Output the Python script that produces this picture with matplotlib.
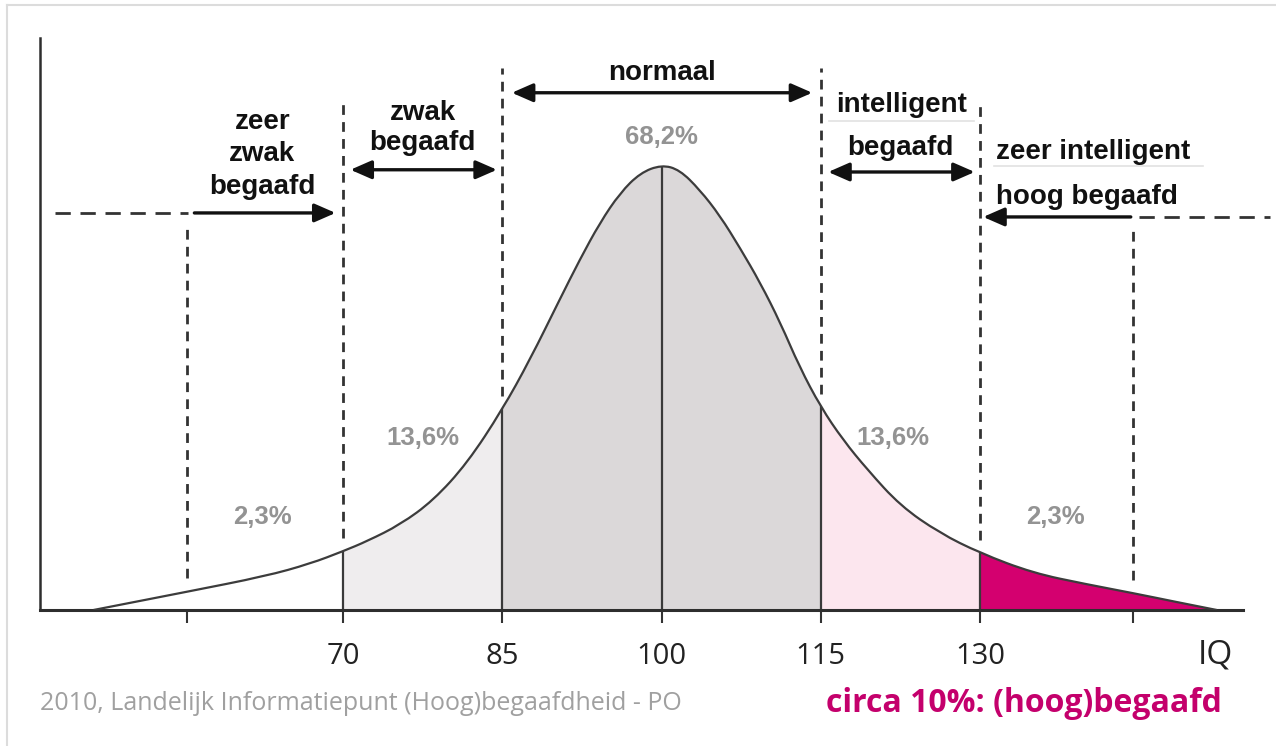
import matplotlib
matplotlib.use('Agg')
from matplotlib import pyplot as plt
from matplotlib.path import Path
from matplotlib.patches import PathPatch
import numpy as np

# curve: IQ against relative height (peak = 100)
iq = np.array([46.5, 48.0, 55.3, 62.7, 66.9, 70, 72.3, 75.4, 78.5, 81.7, 85, 87.6, 90.4, 92.3,
               94.2, 96.1, 98.0, 100, 101.7, 103.6, 105.5, 107.4, 109.3, 111.2, 113.0, 115,
               117.1, 119.4, 122.5, 126.2, 130, 135, 140, 144.4, 148.5, 152.3])
height = np.array([0, 0.7, 4.1, 7.6, 10.4, 13.2, 15.5, 19.2, 24.6, 33.0, 45.0, 56.2, 69.7, 78.7,
                   87.0, 93.7, 98.2, 100, 98.9, 94.4, 88.6, 81.3, 73.5, 64.5, 54.6, 45.6,
                   38.2, 31.5, 23.4, 17.3, 12.8, 8.3, 5.8, 3.8, 1.8, 0])

boundaries = [70, 85, 100, 115, 130]
bands = [(70, 85), (85, 115), (115, 130), (130, 152.3)]
band_colors = ['#efedee', '#dbd8d9', '#fce6ee', '#d4006f']
percent_labels = ['2,3%', '13,6%', '68,2%', '13,6%', '2,3%']
tick_values = [55.3, 70, 85, 100, 115, 130, 144.4]
tick_labels = ['', '70', '85', '100', '115', '130', '']

BOLD = ['Liberation Sans', 'DejaVu Sans']
SOFT = ['Open Sans', 'DejaVu Sans']
INK = '#111111'
LINE = '#3a3a3a'

fig = plt.figure(figsize=(12.76, 7.46), dpi=100)
ax = fig.add_axes([40 / 1276, 136 / 746, 1203 / 1276, 572 / 746])
ax.set_xlim(41.46, 154.77)
ax.set_ylim(0, 128.5)
for s in ['top', 'right']:
    ax.spines[s].set_visible(False)
ax.spines['bottom'].set_linewidth(2.2)
ax.spines['bottom'].set_color('#2e2e2e')
ax.spines['left'].set_linewidth(1.8)
ax.spines['left'].set_color('#2e2e2e')
ax.set_yticks([])
ax.set_xticks(tick_values)
ax.set_xticklabels(tick_labels, family=SOFT)
ax.tick_params(axis='x', direction='out', length=9, width=1.5, color='#333333',
               pad=14, labelsize=21, labelcolor='#222222')

# smooth path through the read points (quadratic bezier via midpoints)
pts = np.column_stack([iq, height])
verts = [pts[0], (pts[0] + pts[1]) / 2]
codes = [Path.MOVETO, Path.LINETO]
for i in range(1, len(pts) - 1):
    verts += [pts[i], (pts[i] + pts[i + 1]) / 2]
    codes += [Path.CURVE3, Path.CURVE3]
verts.append(pts[-1])
codes.append(Path.LINETO)
curve = Path(verts, codes)
area = Path(verts + [(iq[-1], 0), (iq[0], 0), (iq[0], 0)],
            codes + [Path.LINETO, Path.LINETO, Path.CLOSEPOLY])

area_patch = PathPatch(area, facecolor='none', edgecolor='none')
ax.add_patch(area_patch)

# shaded bands under the curve
for (a, b), c in zip(bands, band_colors):
    sp = ax.axvspan(a, b, color=c, lw=0, zorder=1)
    sp.set_clip_path(area_patch)

# solid dividers under the curve
for b in boundaries:
    ln = ax.axvline(b, color=LINE, lw=1.6, zorder=2)
    ln.set_clip_path(area_patch)

ax.add_patch(PathPatch(curve, facecolor='none', edgecolor='#3c3c3c', lw=1.6, zorder=3))

# dashed guides above the curve
dash_tops = {55.3: 85.8, 70: 114.6, 85: 121.8, 115: 121.8, 130: 114.6, 144.4: 85.8}
for x, top in dash_tops.items():
    hb = height[iq == x][0]
    ax.plot([x, x], [hb + 3, top], color='#333333', lw=2, dashes=(3.5, 2.6), zorder=2)

# arrows
arrow = '<|-|>,head_length=0.8,head_width=0.35'
single = '-|>,head_length=0.8,head_width=0.35'
def arr(x0, x1, y, style):
    ax.annotate('', xy=(x1, y), xytext=(x0, y),
                arrowprops=dict(arrowstyle=style, color=INK, lw=2.4,
                                mutation_scale=16, shrinkA=0, shrinkB=0),
                annotation_clip=False)

arr(85.9, 114.2, 116.2, arrow)
arr(70.7, 84.5, 98.9, arrow)
arr(115.7, 129.5, 98.4, arrow)
arr(56.0, 69.3, 89.2, single)
arr(144.2, 130.3, 88.3, single)
ax.plot([42.9, 55.4], [89.2, 89.2], color='#333333', lw=2, dashes=(5.5, 3.5), clip_on=False)
ax.plot([145.0, 157.3], [88.3, 88.3], color='#333333', lw=2, dashes=(5.5, 3.5), clip_on=False)

# faint rules under the right-hand labels
ax.plot([115.8, 129.4], [109.8, 109.8], color='#e2e2e2', lw=1.2)
ax.plot([131.3, 151.0], [99.8, 99.8], color='#e2e2e2', lw=1.2)

# bold category labels
lab = dict(family=BOLD, fontweight='bold', fontsize=20, color=INK, ha='center', va='center')
ax.text(62.4, 109.7, 'zeer', **lab)
ax.text(62.4, 102.5, 'zwak', **lab)
ax.text(62.4, 95.1, 'begaafd', **lab)
ax.text(77.5, 111.7, 'zwak', **lab)
ax.text(77.5, 104.9, 'begaafd', **lab)
ax.text(100, 120.7, 'normaal', **lab)
ax.text(122.6, 113.5, 'intelligent', **lab)
ax.text(122.5, 103.8, 'begaafd', **lab)
lab['ha'] = 'left'
ax.text(131.5, 102.9, 'zeer intelligent', **lab)
ax.text(131.5, 92.8, 'hoog begaafd', **lab)

# percentages
pct_pos = [(62.4, 20.9), (77.5, 38.7), (100, 106.3), (121.8, 38.7), (137.1, 20.9)]
for (x, y), t in zip(pct_pos, percent_labels):
    ax.text(x, y, t, family=BOLD, fontweight='bold', fontsize=18.5, color='#939393',
            ha='center', va='center')

ax.annotate('IQ', xy=(152.2, 0), xytext=(0, -45), textcoords='offset pixels',
            ha='center', va='center', fontsize=24, color='#222222',
            family=SOFT, annotation_clip=False)

fig.text(40 / 1276, 1 - 703 / 746, '2010, Landelijk Informatiepunt (Hoog)begaafdheid - PO',
         family=SOFT, fontsize=18, color='#a0a0a0', ha='left', va='center')
fig.text(1222 / 1276, 1 - 703 / 746, 'circa 10%: (hoog)begaafd',
         family=SOFT, fontweight='bold', fontsize=23, color='#c4006c',
         ha='right', va='center')

# thin frame of the screenshot
fig.add_artist(plt.Line2D([7 / 1276, 1], [1 - 5 / 746, 1 - 5 / 746], color='#dcdcdc', lw=1.5))
fig.add_artist(plt.Line2D([7 / 1276, 7 / 1276], [0, 1 - 5 / 746], color='#dcdcdc', lw=1.5))

fig.savefig('out.png', dpi=100)
